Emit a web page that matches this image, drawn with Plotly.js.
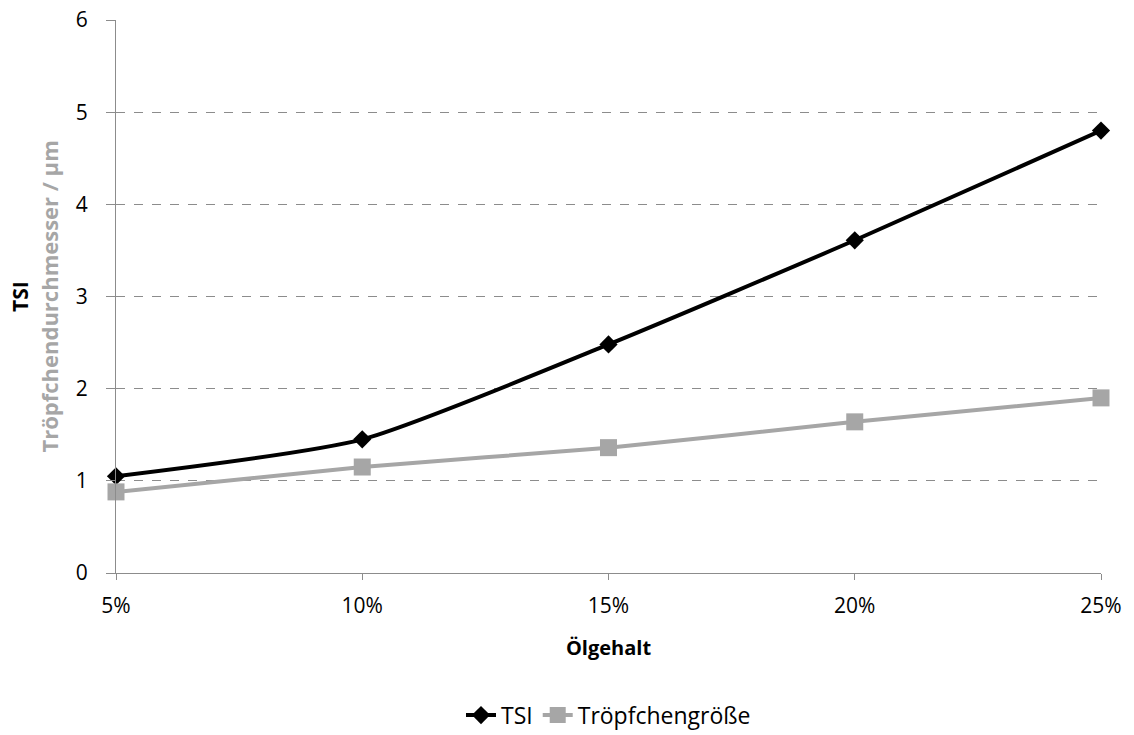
<!DOCTYPE html>
<html>
<head>
<meta charset="utf-8">
<script src="https://cdn.plot.ly/plotly-3.0.1.min.js"></script>
<style>html,body{margin:0;padding:0;background:#fff;}#chart{width:1134px;height:735px;}</style>
</head>
<body>
<div id="chart"></div>
<script>
var categories = ["5%", "10%", "15%", "20%", "25%"];
var tsi = [1.05, 1.45, 2.48, 3.61, 4.80];
var droplet = [0.88, 1.15, 1.36, 1.64, 1.90];
var yTicks = [0, 1, 2, 3, 4, 5, 6];

var idx = categories.map(function(c, i){ return i; });
var font = "Open Sans, Liberation Sans, sans-serif";

var traces = [
  {
    x: idx, y: tsi, name: "TSI", type: "scatter", mode: "lines+markers",
    line: {color: "#000000", width: 4, shape: "spline", smoothing: 0.6},
    marker: {symbol: "diamond", size: 14, color: "#000000"},
    cliponaxis: false
  },
  {
    x: idx, y: droplet, name: "Tröpfchengröße", type: "scatter", mode: "lines+markers",
    line: {color: "#A6A6A6", width: 4, shape: "spline", smoothing: 0.6},
    marker: {symbol: "square", size: 17, color: "#A6A6A6"},
    cliponaxis: false
  }
];

var layout = {
  width: 1134, height: 735,
  margin: {l: 116, r: 33, t: 20, b: 162, autoexpand: false},
  paper_bgcolor: "#ffffff", plot_bgcolor: "#ffffff",
  font: {family: font, size: 20, color: "#000000"},
  showlegend: true,
  legend: {orientation: "h", x: 0.5, xanchor: "center", y: -0.257, yanchor: "middle",
           font: {family: font, size: 23, color: "#000000"}, tracegroupgap: 0},
  xaxis: {
    range: [0, 4], tickvals: idx, ticktext: categories,
    showline: true, linecolor: "#8C8C8C", linewidth: 1,
    ticks: "outside", ticklen: 6, tickcolor: "#8C8C8C",
    ticklabelstandoff: 8,
    showgrid: false, zeroline: false, automargin: false,
    tickfont: {family: font, size: 21, color: "#000000"},
    title: {text: "<b>Ölgehalt</b>", font: {family: font, size: 20, color: "#000000"}, standoff: 22}
  },
  yaxis: {
    range: [0, 6], tickvals: yTicks,
    showline: true, linecolor: "#8C8C8C", linewidth: 1,
    ticks: "outside", ticklen: 9, tickcolor: "#8C8C8C",
    ticklabelstandoff: 14,
    showgrid: true, gridcolor: "#8C8C8C", griddash: "dash", gridwidth: 1,
    zeroline: false, automargin: false,
    tickfont: {family: font, size: 21, color: "#000000"}
  },
  annotations: [
    {text: "<b>TSI</b>", xref: "paper", yref: "paper", x: -0.098, y: 0.5, textangle: -90,
     showarrow: false, xanchor: "center", yanchor: "middle",
     font: {family: font, size: 21, color: "#000000"}},
    {text: "<b>Tröpfchendurchmesser / µm</b>", xref: "paper", yref: "paper", x: -0.069, y: 0.5, textangle: -90,
     showarrow: false, xanchor: "center", yanchor: "middle",
     font: {family: font, size: 22, color: "#A6A6A6"}}
  ]
};

Plotly.newPlot("chart", traces, layout, {displayModeBar: false, staticPlot: true});
</script>
</body>
</html>
